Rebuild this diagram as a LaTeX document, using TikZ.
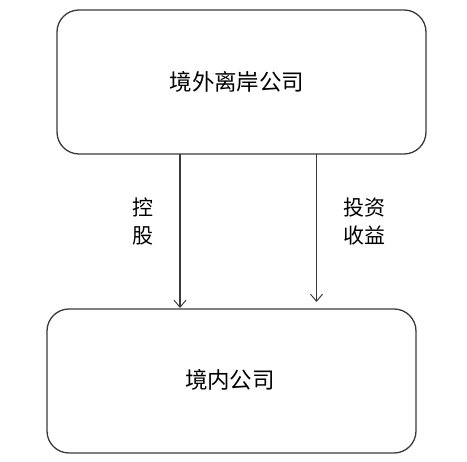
\documentclass[tikz,border=0pt]{standalone}
\usepackage{fontspec}
\newfontfamily\cjk{Noto Sans CJK SC}
\usetikzlibrary{arrows.meta}
\definecolor{linegray}{HTML}{3A3A3A}
\begin{document}
\begin{tikzpicture}[x=1pt,y=-1pt,
  boxstyle/.style={draw=linegray, line width=1.3pt, rounded corners=22pt, inner sep=0pt},
  lbl/.style={font=\cjk\fontsize{21}{28}\selectfont, align=center, text=black},
  conn/.style={draw=linegray, line width=1.1pt, -{Straight Barb[length=7pt,width=12pt,line width=1pt]}}]
\useasboundingbox (0,0) rectangle (467,462);
\node[boxstyle, minimum width=369pt, minimum height=144pt] (top) at (241.5,82) {};
\node[lbl, font=\cjk\fontsize{22.5}{28}\selectfont] (toptxt) at (237,82) {境外离岸公司};
\node[boxstyle, minimum width=369pt, minimum height=144pt] (bot) at (231.5,381) {};
\node[lbl, font=\cjk\fontsize{22.5}{28}\selectfont] (bottxt) at (230,380) {境内公司};
\coordinate (a1s) at (180,154);
\coordinate (a1e) at (180,308);
\coordinate (a2s) at (316.5,154);
\coordinate (a2e) at (316.5,302);
\draw[conn] (a1s) -- (a1e);
\draw[conn] (a2s) -- (a2e);
\node[lbl] (l1) at (143,222) {控\\股};
\node[lbl] (l2) at (364,222) {投资\\收益};
\end{tikzpicture}
\end{document}
